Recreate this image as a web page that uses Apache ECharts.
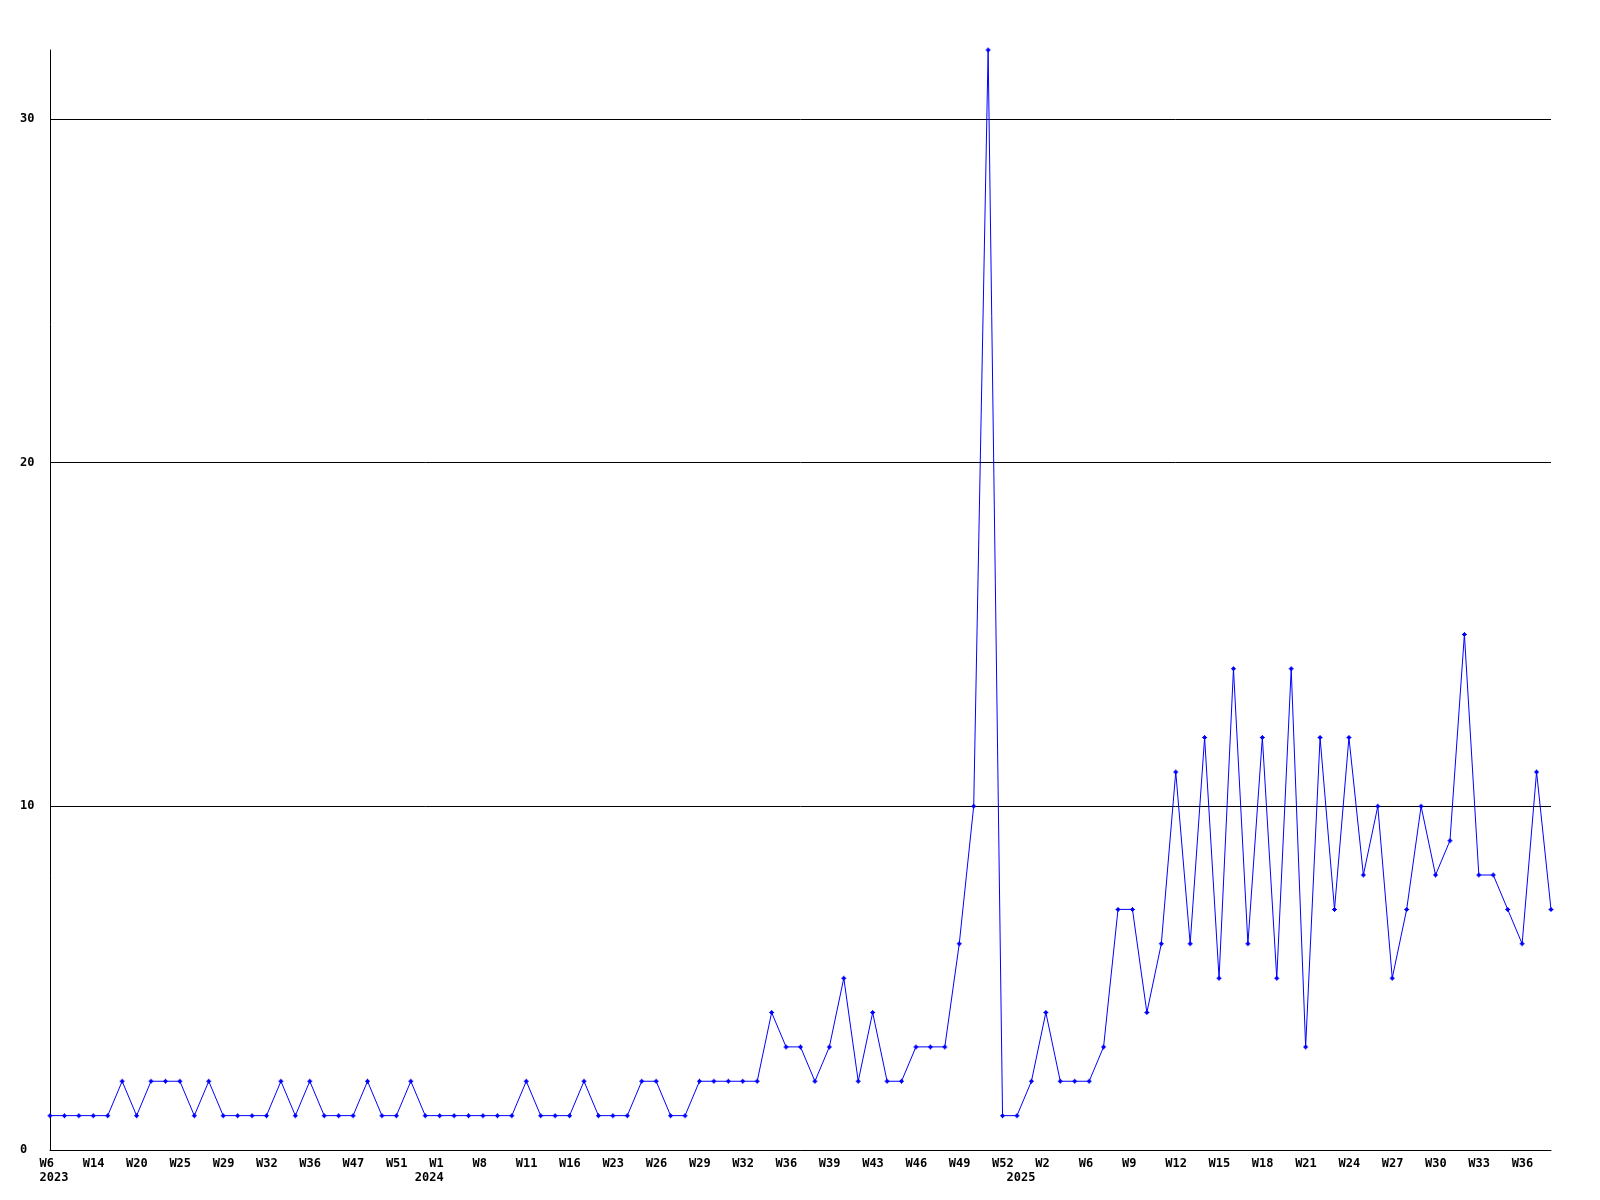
<!DOCTYPE html>
<html>
<head>
<meta charset="utf-8">
<script src="https://cdn.jsdelivr.net/npm/echarts@6/dist/echarts.min.js"></script>
<style>
html,body{margin:0;padding:0;background:#fff;}
#chart{width:1600px;height:1200px;}
</style>
</head>
<body>
<div id="chart"></div>
<script>
// Week labels (category axis), in order
const weeks = [
  'W6','W8','W11','W14','W16','W18','W20','W22','W24','W25','W26','W28','W29','W30','W31','W32','W33','W35','W36','W40','W44','W47','W48','W50','W51','W52',
  'W0','W1','W3','W5','W8','W9','W10','W11','W13','W15','W16','W18','W21','W23','W24','W25','W26','W27','W28','W29','W30','W31','W32','W33','W35','W36','W37','W38','W39','W40','W42','W43','W44','W45','W46','W47','W48','W49','W50','W51','W52',
  'W0','W1','W2','W3','W5','W6','W7','W8','W9','W10','W11','W12','W13','W14','W15','W16','W17','W18','W19','W20','W21','W22','W23','W24','W25','W26','W27','W28','W29','W30','W31','W32','W33','W34','W35','W36','W37','W38'
];
// Year shown under the first week of each year (by position in weeks)
const yearStarts = {0: '2023', 26: '2024', 67: '2025'};
// Weekly counts
const counts = [
  1,1,1,1,1,2,1,2,2,2,1,2,1,1,1,1,2,1,2,1,1,1,2,1,1,2,
  1,1,1,1,1,1,1,2,1,1,1,2,1,1,1,2,2,1,1,2,2,2,2,2,4,3,3,2,
  3,5,2,4,2,2,3,3,3,6,10,32,1,
  1,2,4,2,2,2,3,7,7,4,6,11,6,12,5,14,6,12,5,14,3,12,7,12,8,10,5,7,10,8,9,15,8,8,7,6,11,7
];
// Y axis tick values
const yTicks = [0, 10, 20, 30];
const yMax = 32;

const font = '"DejaVu Sans Mono", "Liberation Mono", monospace';
const chart = echarts.init(document.getElementById('chart'), null, {renderer: 'canvas'});
const cats = weeks.map((w, i) => i + ':' + w);

chart.setOption({
  animation: false,
  backgroundColor: '#ffffff',
  grid: {left: 50, right: 49, top: 50, bottom: 50, containLabel: false},
  xAxis: {
    type: 'category',
    data: cats,
    boundaryGap: false,
    axisLine: {show: true, lineStyle: {color: '#000', width: 1}},
    axisTick: {show: false},
    splitLine: {show: false},
    axisLabel: {
      interval: function (index) { return index % 3 === 0 || yearStarts[index] !== undefined; },
      margin: 7,
      align: 'center',
      lineHeight: 14,
      formatter: function (value, index) {
        const w = index % 3 === 0 ? weeks[index] : ' ';
        const y = yearStarts[index];
        return '{a|' + w + '}' + (y ? '\n{a|' + y + '}' : '');
      },
      rich: {
        a: {width: 21, align: 'left', lineHeight: 14, fontFamily: font, fontSize: 12, fontWeight: 'bold', color: '#000'}
      }
    }
  },
  yAxis: {
    type: 'value',
    min: 0,
    max: yMax,
    interval: 10,
    axisLine: {show: true, lineStyle: {color: '#000', width: 1}},
    axisTick: {show: false},
    splitLine: {show: true, lineStyle: {color: ['#000', '#000', '#000', '#000', 'rgba(0,0,0,0)'], width: 1}},
    axisLabel: {
      margin: 30,
      align: 'left',
      fontFamily: font,
      fontSize: 12,
      fontWeight: 'bold',
      color: '#000',
      formatter: function (v) { return yTicks.indexOf(v) >= 0 ? String(v) : ''; }
    }
  },
  series: [{
    type: 'line',
    data: counts,
    symbol: 'path://M2,0L3,0L3,1L4,1L4,2L5,2L5,3L4,3L4,4L3,4L3,5L2,5L2,4L1,4L1,3L0,3L0,2L1,2L1,1L2,1Z',
    symbolSize: 5,
    showAllSymbol: true,
    lineStyle: {color: '#0000ff', width: 1},
    itemStyle: {color: '#0000ff'}
  }]
});
</script>
</body>
</html>
